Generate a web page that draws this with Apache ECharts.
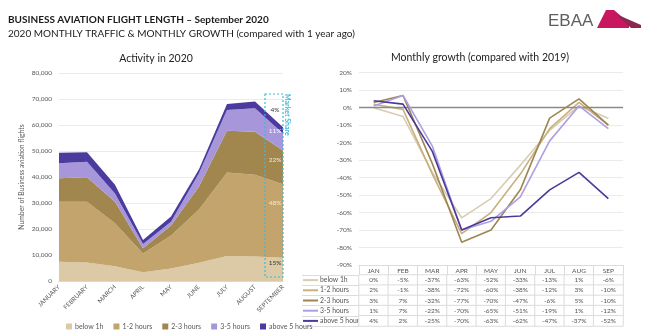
<!DOCTYPE html>
<html><head><meta charset="utf-8">
<script src="https://cdn.jsdelivr.net/npm/echarts@6/dist/echarts.min.js"></script>
<style>html,body{margin:0;padding:0;background:#fff}#c{width:650px;height:332px}</style>
</head><body><div id="c"></div>
<script>
const months = ['JANUARY','FEBRUARY','MARCH','APRIL','MAY','JUNE','JULY','AUGUST','SEPTEMBER'];
const monthsShort = ['JAN','FEB','MAR','APR','MAY','JUN','JUL','AUG','SEP'];
const seriesNames = ['below 1h','1-2 hours','2-3 hours','3-5 hours','above 5 hours'];
// Activity in 2020 (flights, stacked)
const below1h = [7400,7100,5700,3400,4800,7000,9600,9400,8900];
const h1to2   = [23100,23400,16500,7200,12700,20500,32100,31500,28300];
const h2to3   = [9000,9400,8300,2000,3800,8800,16100,16500,13000];
const h3to5   = [5800,6000,3200,1600,1500,5100,8000,9000,6500];
const above5  = [4000,3600,3300,1600,2000,1600,2300,2600,2400];
// Monthly growth vs 2019 (%)
const gBelow1h = [0,-5,-37,-63,-52,-33,-13,1,-6];
const g1to2    = [2,-1,-38,-72,-60,-38,-12,3,-10];
const g2to3    = [3,7,-32,-77,-70,-47,-6,5,-10];
const g3to5    = [1,7,-22,-70,-65,-51,-19,1,-12];
const gAbove5  = [4,2,-25,-70,-63,-62,-47,-37,-52];
// Market share September
const septShare = ['15%','48%','22%','11%','4%'];

const areaColors = ['#dcc9a6','#c2a46c','#a1864e','#a797da','#4c3b9e'];
const lineColors = ['#d9ccb2','#c9b07c','#9d8651','#ad9fe2','#4a3a9a'];
const FONT = 'Lato';
const activity = [below1h,h1to2,h2to3,h3to5,above5];
const growth = [gBelow1h,g1to2,g2to3,g3to5,gAbove5];

const chart = echarts.init(document.getElementById('c'), null, {renderer:'canvas'});

const series = [];
activity.forEach((d,i)=>{
  series.push({name:seriesNames[i], type:'line', xAxisIndex:0, yAxisIndex:0, stack:'act',
    data:d, symbol:'none', lineStyle:{width:0}, areaStyle:{color:areaColors[i], opacity:1},
    itemStyle:{color:areaColors[i]}, z:2});
});
growth.forEach((d,i)=>{
  const s = {name:seriesNames[i], type:'line', xAxisIndex:1, yAxisIndex:1, data:d,
    symbol:'none', lineStyle:{width:1.6, color:lineColors[i]}, itemStyle:{color:lineColors[i]}, z:3+i};
  if(i===0){ s.markLine = {silent:true, symbol:'none', label:{show:false},
    lineStyle:{color:'#8a8a8a', width:1.3, type:'solid'}, data:[{yAxis:0}]}; }
  series.push(s);
});
const heatData = [];
growth.forEach((d,s)=>d.forEach((v,i)=>heatData.push([i,s,v])));
series.push({type:'heatmap', xAxisIndex:2, yAxisIndex:2, data:heatData,
  itemStyle:{borderColor:'#dcdcdc', borderWidth:1},
  label:{show:true, fontSize:6.5, fontFamily:FONT, color:'#555', formatter:p=>p.value[2]+'%'}});

const rich = {};
lineColors.forEach((c,i)=>{ rich['l'+i] = {width:15, height:2, backgroundColor:c}; });
rich.t = {fontSize:6.8, fontFamily:FONT, color:'#555', padding:[0,0,0,2]};

const shareY = [263, 203, 160, 131, 110];
const shareCol = ['#333','#f3ead8','#f3ead8','#ffffff','#333'];

const option = {
  backgroundColor:'#fff',
  animation:false,
  textStyle:{fontFamily:FONT},
  legend:{data:seriesNames, left:61, top:318, icon:'rect', itemWidth:6, itemHeight:6, itemGap:10,
    textStyle:{fontSize:7, color:'#595959', fontFamily:FONT, padding:[0,0,0,-2]}},
  visualMap:{show:false, seriesIndex:10, min:-100, max:100, dimension:2, inRange:{color:['#ffffff','#ffffff']}},
  grid:[
    {left:59, right:367, top:73, bottom:51},
    {left:359, right:27, top:72.7, bottom:67},
    {left:359, right:27, top:275, bottom:6}
  ],
  xAxis:[
    {gridIndex:0, type:'category', data:months, boundaryGap:false,
      axisLine:{lineStyle:{color:'#d9d9d9'}}, axisTick:{show:false},
      axisLabel:{rotate:45, fontSize:6.3, color:'#595959', fontFamily:FONT, margin:5, interval:0}},
    {gridIndex:1, type:'category', data:monthsShort, boundaryGap:true, position:'bottom',
      axisLine:{onZero:false, lineStyle:{color:'#dcdcdc'}},
      axisTick:{show:true, length:10, interval:0, lineStyle:{color:'#dcdcdc'}},
      axisLabel:{fontSize:6.5, color:'#555', fontFamily:FONT, margin:2, interval:0}},
    {gridIndex:2, type:'category', data:monthsShort, show:false}
  ],
  yAxis:[
    {gridIndex:0, type:'value', min:0, max:80000, interval:10000,
      axisLine:{show:false}, axisTick:{show:false},
      splitLine:{lineStyle:{color:'#e6e6e6', width:0.8}},
      axisLabel:{fontSize:6.5, color:'#595959', fontFamily:FONT, margin:7,
        formatter:v=>v.toLocaleString('en-US')},
      name:'Number of Business aviation flights', nameLocation:'middle', nameGap:34,
      nameTextStyle:{fontSize:6.8, color:'#595959', fontFamily:FONT}},
    {gridIndex:1, type:'value', min:-90, max:20, interval:10,
      axisLine:{show:false}, axisTick:{show:false},
      splitLine:{lineStyle:{color:'#e6e6e6', width:0.8}},
      axisLabel:{fontSize:6.5, color:'#595959', fontFamily:FONT, margin:7, formatter:v=>v+'%'}},
    {gridIndex:2, type:'category', data:seriesNames, inverse:true,
      axisLine:{show:true, lineStyle:{color:'#dcdcdc'}},
      axisTick:{show:true, length:57, interval:0, lineStyle:{color:'#dcdcdc'}},
      splitLine:{show:false},
      axisLabel:{align:'left', margin:56, interval:0,
        formatter:(v,i)=>'{l'+i+'|}{t|'+v+'}', rich:rich}}
  ],
  series:series,
  graphic:[
    {type:'text', left:8, top:15, style:{text:'BUSINESS AVIATION FLIGHT LENGTH \u2013 September 2020',
      font:'bold 10px '+FONT, fill:'#1a1a1a'}},
    {type:'text', left:8, top:28.5, style:{text:'2020 MONTHLY TRAFFIC & MONTHLY GROWTH (compared with 1 year ago)',
      font:'10px '+FONT, fill:'#1a1a1a'}},
    {type:'text', x:156, y:59, style:{text:'Activity in 2020', font:'10.5px '+FONT, fill:'#222', align:'center', verticalAlign:'middle'}},
    {type:'text', x:480, y:58, style:{text:'Monthly growth (compared with 2019)', font:'10.5px '+FONT, fill:'#222', align:'center', verticalAlign:'middle'}},
    {type:'text', x:548, y:21, style:{text:'EBAA', font:'17px "Liberation Sans"', fill:'#5f5f5f', verticalAlign:'middle'}},
    {type:'polygon', shape:{points:[[597,28],[606,10],[614,10],[629,23],[629,28]]}, style:{fill:'#c8175f'}},
    {type:'polygon', shape:{points:[[616,14],[641,25],[641,28],[631,28]]}, style:{fill:'#8c2750'}},
    {type:'rect', shape:{x:265, y:94, width:18, height:183}, style:{fill:'none', stroke:'#3fb9d8', lineWidth:1.2, lineDash:[2,2]}, z:10},
    {type:'text', x:287, y:94, rotation:-Math.PI/2, style:{text:'Market Share', font:'bold 7px '+FONT, fill:'#3fb9d8', verticalAlign:'middle'}, z:10}
  ].concat(septShare.map((t,i)=>({type:'text', x:275, y:shareY[i], z:10,
      style:{text:t, font:'6.5px '+FONT, fill:shareCol[i], align:'center', verticalAlign:'middle'}})))
};
chart.setOption(option);
</script></body></html>
